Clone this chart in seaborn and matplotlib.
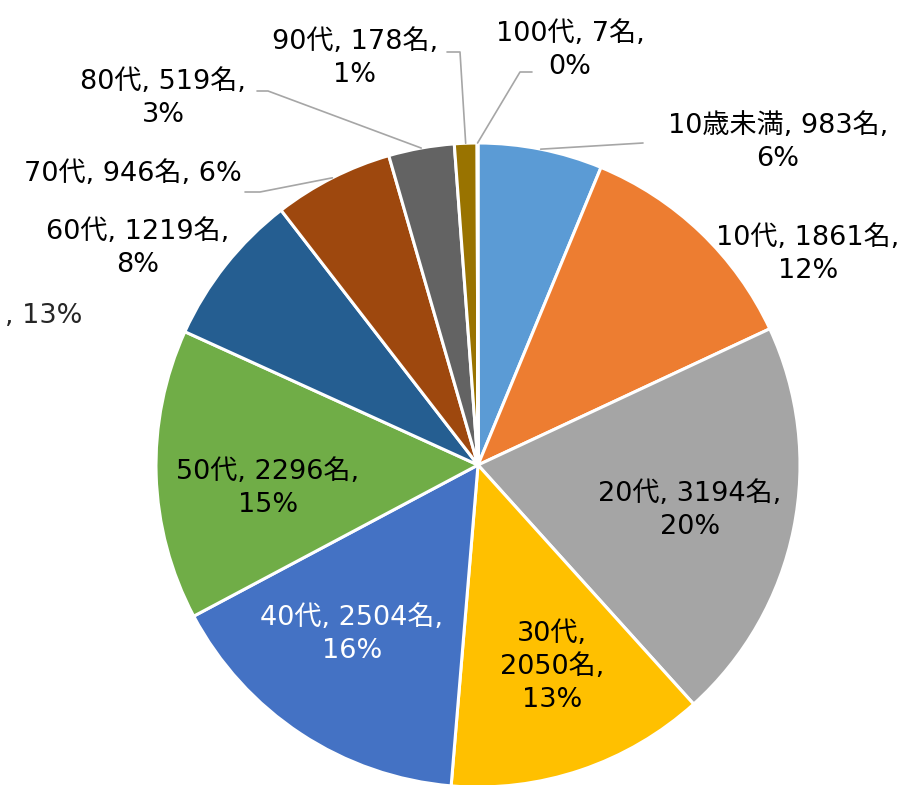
import numpy as np
import matplotlib
matplotlib.use("Agg")
import matplotlib.pyplot as plt
import seaborn as sns

# data
age_groups = ["10歳未満", "10代", "20代", "30代", "40代", "50代",
              "60代", "70代", "80代", "90代", "100代"]
counts = [983, 1861, 3194, 2050, 2504, 2296, 1219, 946, 519, 178, 7]
slice_colors = ["#5B9BD5", "#ED7D31", "#A5A5A5", "#FFC000", "#4472C4", "#70AD47",
                "#255E91", "#9E480E", "#636363", "#997300", "#264478"]

sns.set_theme(style="white")
plt.rcParams["font.family"] = ["DejaVu Sans", "Noto Sans CJK JP"]

W, H = 920, 785
CX, CY, R = 478, 465, 322

fig = plt.figure(figsize=(W / 100, H / 100), dpi=100)
ax = fig.add_axes([(CX - R) / W, (H - CY - R) / H, 2 * R / W, 2 * R / H])
ax.set_aspect("equal")
ax.axis("off")

wedges, _ = ax.pie(counts, colors=slice_colors, startangle=90, counterclock=False,
                   radius=1, center=(0, 0), frame=False,
                   wedgeprops=dict(edgecolor="white", linewidth=2.2))
ax.set_xlim(-1, 1)
ax.set_ylim(-1, 1)

total = sum(counts)


def label_text(i, wrap):
    pct = "%d%%" % round(counts[i] / total * 100)
    parts = [age_groups[i], "%d名" % counts[i], pct]
    if wrap == 1:
        return parts[0] + ", " + parts[1] + ",\n" + parts[2]
    if wrap == 2:
        return parts[0] + ",\n" + parts[1] + ",\n" + parts[2]
    return ", ".join(parts)


# label layout: (pixel x, pixel y from top, wrap mode, colour)
layout = {
    0: (778, 142, 1, "black"),
    1: (808, 255, 1, "black"),
    2: (690, 510, 1, "black"),
    3: (552, 667, 2, "black"),
    4: (352, 635, 1, "white"),
    5: (268, 488, 1, "black"),
    6: (138, 248, 1, "black"),
    7: (133, 174, 0, "black"),
    8: (163, 98, 1, "black"),
    9: (355, 58, 1, "black"),
    10: (570, 50, 1, "black"),
}

for i, (x, y, wrap, col) in layout.items():
    fig.text(x / W, 1 - y / H, label_text(i, wrap), ha="center", va="center",
             color=col, fontsize=19.5, linespacing=1.35)

# stray clipped label on the left
fig.text(5 / W, 1 - 316 / H, ", 13%", ha="left", va="center", fontsize=19.5)

# leader lines: elbow points in pixels, start from the wedge edge
leaders = {
    0: [(643, 143)],
    7: [(260, 192), (245, 192)],
    8: [(268, 91), (257, 91)],
    9: [(460, 52), (447, 52)],
    10: [(520, 72), (532, 72)],
}
for i, pts in leaders.items():
    w = wedges[i]
    mid = np.deg2rad((w.theta1 + w.theta2) / 2)
    sx, sy = ax.transData.transform((np.cos(mid), np.sin(mid)))
    xs = [sx / W] + [p[0] / W for p in pts]
    ys = [sy / H] + [1 - p[1] / H for p in pts]
    fig.add_artist(plt.Line2D(xs, ys, color="#A6A6A6", linewidth=1.2,
                              transform=fig.transFigure))

fig.savefig("out.png", dpi=100)
